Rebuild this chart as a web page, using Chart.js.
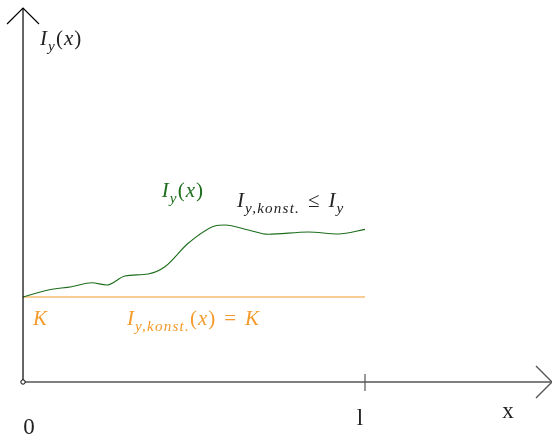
<!DOCTYPE html>
<html><head><meta charset="utf-8">
<script src="https://cdn.jsdelivr.net/npm/chart.js@4/dist/chart.umd.min.js"></script>
<style>html,body{margin:0;padding:0;background:#fff}#wrap{width:552px;height:435px}</style>
</head><body><div id="wrap"><canvas id="c" width="552" height="435"></canvas></div>
<script>
// ---- data ----
const curveX = [0, 0.074, 0.142, 0.201, 0.245, 0.298, 0.366, 0.415, 0.483, 0.561, 0.591, 0.659, 0.717, 0.834, 0.922, 1.0];
const curveY = [1.0, 1.082, 1.121, 1.168, 1.141, 1.247, 1.271, 1.356, 1.632, 1.835, 1.847, 1.788, 1.738, 1.765, 1.741, 1.796];
const constX = [0, 1];
const constY = [1, 1];
const beamLength = 1;           // l
const xTickLabels = ["0", "l"];
const axisNames = ["x", "I_y(x)"];

const green = '#1c6e1c', orange = '#f39a2a';

// draws a mini "math" string: parts = [text, italic?, sub?, extraSpace]
function mathText(ctx, x, y, parts, color, size) {
  ctx.save();
  ctx.fillStyle = color;
  ctx.textBaseline = 'alphabetic';
  let cx = x;
  for (const [t, it, sub, gap] of parts) {
    const fs = sub ? size * 0.72 : size;
    ctx.font = (it ? 'italic ' : '') + fs + 'px "Liberation Serif", serif';
    ctx.letterSpacing = sub ? '1.2px' : '1px';
    cx += (gap || 0);
    ctx.fillText(t, cx, sub ? y + size * 0.28 : y);
    cx += ctx.measureText(t).width + (gap || 0);
  }
  ctx.restore();
}

const axesPlugin = {
  id: 'axesPlugin',
  afterDatasetsDraw(chart) {
    const ctx = chart.ctx, xs = chart.scales.x, ys = chart.scales.y;
    const ox = xs.getPixelForValue(0), oy = ys.getPixelForValue(0);
    const right = xs.right, top = ys.top + 8;
    ctx.save();
    // x axis
    ctx.strokeStyle = '#555'; ctx.lineWidth = 1.4;
    ctx.beginPath(); ctx.moveTo(ox, oy); ctx.lineTo(right, oy); ctx.stroke();
    ctx.beginPath(); ctx.moveTo(right - 16, oy - 16); ctx.lineTo(right, oy); ctx.lineTo(right - 16, oy + 16); ctx.stroke();
    // y axis
    ctx.strokeStyle = '#000'; ctx.lineWidth = 1.2;
    ctx.beginPath(); ctx.moveTo(ox, oy); ctx.lineTo(ox, top); ctx.stroke();
    ctx.beginPath(); ctx.moveTo(ox - 16, top + 16); ctx.lineTo(ox, top); ctx.lineTo(ox + 16, top + 16); ctx.stroke();
    // tick at l
    const lx = xs.getPixelForValue(beamLength);
    ctx.strokeStyle = '#555'; ctx.lineWidth = 1.2;
    ctx.beginPath(); ctx.moveTo(lx, oy - 8); ctx.lineTo(lx, oy + 9); ctx.stroke();
    // origin circle
    ctx.strokeStyle = '#000'; ctx.fillStyle = '#fff'; ctx.lineWidth = 1;
    ctx.beginPath(); ctx.arc(ox, oy, 2.2, 0, Math.PI * 2); ctx.fill(); ctx.stroke();
    // tick labels
    ctx.fillStyle = '#222';
    ctx.font = '23px "Liberation Serif", serif';
    ctx.textAlign = 'center';
    ctx.fillText(xTickLabels[0], ox + 6, oy + 52);
    ctx.fillText(xTickLabels[1], lx - 5, oy + 43);
    ctx.fillText(axisNames[0], right - 44, oy + 36);
    ctx.textAlign = 'left';
    ctx.restore();
    // labels
    const P = (vx, vy) => [xs.getPixelForValue(vx), ys.getPixelForValue(vy)];
    const S = 21;
    let [a, b] = P(0.05, 3.965);
    mathText(ctx, a, b, [['I', true], ['y', true, true], ['(', false], ['x', true], [')', false]], '#222', S);
    [a, b] = P(0.406, 2.176);
    mathText(ctx, a, b, [['I', true], ['y', true, true], ['(', false], ['x', true], [')', false]], green, S);
    [a, b] = P(0.626, 2.06);
    mathText(ctx, a, b, [['I', true], ['y,konst.', true, true], ['\u2264', false, false, 8], ['I', true], ['y', true, true]], '#222', S);
    [a, b] = P(0.029, 0.67);
    mathText(ctx, a, b, [['K', true]], orange, S);
    [a, b] = P(0.304, 0.67);
    mathText(ctx, a, b, [['I', true], ['y,konst.', true, true], ['(', false], ['x', true], [')', false], ['=', false, false, 8], ['K', true]], orange, S);
  }
};

new Chart(document.getElementById('c'), {
  type: 'line',
  data: {
    datasets: [
      { data: curveX.map((x, i) => ({ x, y: curveY[i] })), borderColor: green, borderWidth: 1.1, pointRadius: 0, tension: 0.4, cubicInterpolationMode: 'monotone', fill: false },
      { data: constX.map((x, i) => ({ x, y: constY[i] })), borderColor: orange, borderWidth: 1, pointRadius: 0, fill: false }
    ]
  },
  options: {
    responsive: false, animation: false, devicePixelRatio: 1,
    layout: { padding: 0 },
    plugins: { legend: { display: false }, tooltip: { enabled: false } },
    scales: {
      x: { type: 'linear', min: -0.0673, max: 1.5468, display: false },
      y: { type: 'linear', min: -0.6235, max: 4.494, display: false }
    }
  },
  plugins: [axesPlugin]
});
</script></body></html>
